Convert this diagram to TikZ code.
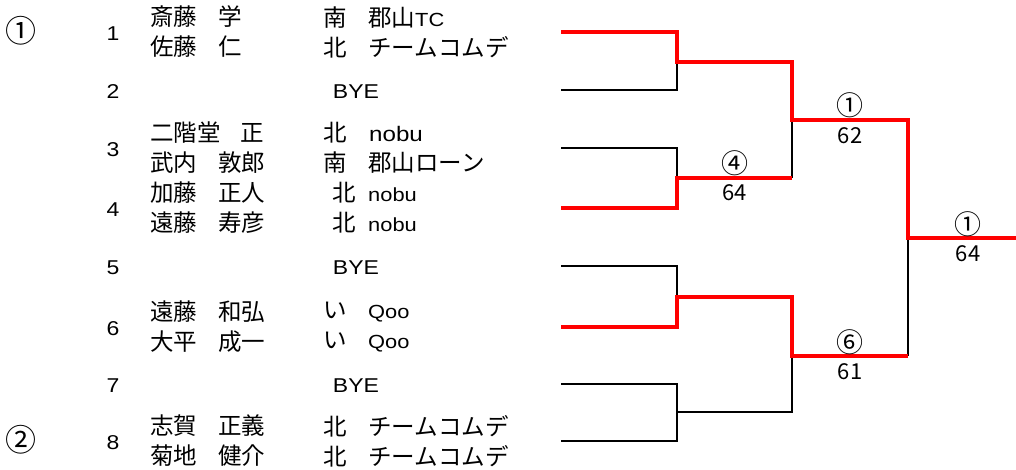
\documentclass[tikz,border=0pt]{standalone}
\usepackage{fontspec}
\setmainfont{Liberation Sans}[FakeStretch=1.15]
\newfontfamily\jp{Noto Sans CJK JP}
\newfontfamily\lat{Liberation Sans}[FakeStretch=1.15]
\newcommand{\latn}[2][19]{{\lat\fontsize{#1}{30}\selectfont #2}}
\newcommand{\col}[2][68pt]{\makebox[#1][l]{#2}}
\usepackage{tikz}
\usetikzlibrary{calc,positioning}
\definecolor{winred}{RGB}{255,0,0}

\tikzset{
	lose/.style={draw=black,line width=2.8pt},
	win/.style={draw=winred,line width=4.4pt},
	seed/.style={inner sep=0pt,font=\jp\fontsize{31}{31}\selectfont},
	num/.style={inner sep=0pt,font=\fontsize{20}{20}\selectfont},
	player/.style={anchor=west,align=left,inner sep=0pt,font=\jp\fontsize{23.5}{30}\selectfont},
	score/.style={inner sep=0pt,font=\jp\fontsize{22}{22}\selectfont},
	circ/.style={inner sep=0pt,font=\jp\fontsize{27}{27}\selectfont},
}

\begin{document}
\begin{tikzpicture}[x=1pt,y=-1pt]
		\useasboundingbox (0,0) rectangle (1016,470);
		\foreach \y [count=\i] in {32,90,148,208,266,327,384,441} {
			\coordinate (s\i) at (561,\y);
			\node[num] (no\i) at (113,\y+2) {\i};
		};
		\coordinate (m1) at (677,62);
		\coordinate (m2) at (677,178);
		\coordinate (m3) at (677,297);
		\coordinate (m4) at (677,412);
		\coordinate (q1) at (792,120);
		\coordinate (q2) at (792,356);
		\coordinate (f) at (908,238);
		\coordinate (w) at (1016,238);
		
		\draw[lose] (s2) -| (m1);
		\draw[lose] (s3) -| (m2);
		\draw[lose] (q1) -- (q1 |- m2);
		\draw[lose] (s5) -| (m3);
		\draw[lose] (s7) -| (m4) |- (s8);
		\draw[lose] (m4) -| (q2);
		\draw[lose] (f) -- (f |- q2);
		\draw[win] (s1) -| (m1) -| (q1) -| (f) -- (w);
		\draw[win] (s4) -| (m2) -- (m2 -| q1);
		\draw[win] (s6) -| (m3) -| (q2) -- (q2 -| f);
		
		\node[circ] (w2) at ($(m2)!0.5!(m2 -| q1)+(0,-15)$) {④};
		\node[score] (g2) at ($(m2)!0.5!(m2 -| q1)+(0,15)$) {64};
		\node[circ] (w5) at ($(q1)!0.5!(q1 -| f)+(0,-15)$) {①};
		\node[score] (g5) at ($(q1)!0.5!(q1 -| f)+(0,16)$) {62};
		\node[circ] (w6) at ($(q2)!0.5!(q2 -| f)+(0,-14)$) {⑥};
		\node[score] (g6) at ($(q2)!0.5!(q2 -| f)+(0,16)$) {61};
		\node[circ] (w7) at ($(f)+(60,-14)$) {①};
		\node[score] (g7) at ($(f)+(60,16)$) {64};
		
		\node[seed] (sd1) at (21,31) {①};
		\node[seed] (sd2) at (21,440) {②};
		
		\node[player] (p1) at (150,32) {\col{斎藤}学\\\col{佐藤}仁};
		\node[player] (c1) at (323,32) {\col[45pt]{南}郡山\latn{TC}\\\col[45pt]{北}チームコムデ};
		\node[num] (c2) at (356,92) {BYE};
		\node[player] (p3) at (150,148) {\col[90pt]{二階堂}正\\\col{武内}敦郎};
		\node[player] (c3) at (323,148) {\col[46pt]{北}\latn[21]{nobu}\\\col[45pt]{南}郡山ローン};
		\node[player] (p4) at (150,208) {\col{加藤}正人\\\col{遠藤}寿彦};
		\node[player] (c4) at (323,208) {\col[45pt]{\hspace*{9pt}北}\latn{nobu}\\\col[45pt]{\hspace*{9pt}北}\latn{nobu}};
		\node[num] (c5) at (356,268) {BYE};
		\node[player] (p6) at (150,327) {\col{遠藤}和弘\\\col{大平}成一};
		\node[player] (c6) at (323,327) {\col[45pt]{い}\latn{Qoo}\\\col[45pt]{い}\latn{Qoo}};
		\node[num] (c7) at (356,386) {BYE};
		\node[player] (p8) at (150,441) {\col{志賀}正義\\\col{菊地}健介};
		\node[player] (c8) at (323,441) {\col[45pt]{北}チームコムデ\\\col[45pt]{北}チームコムデ};
	\end{tikzpicture}
\end{document}
